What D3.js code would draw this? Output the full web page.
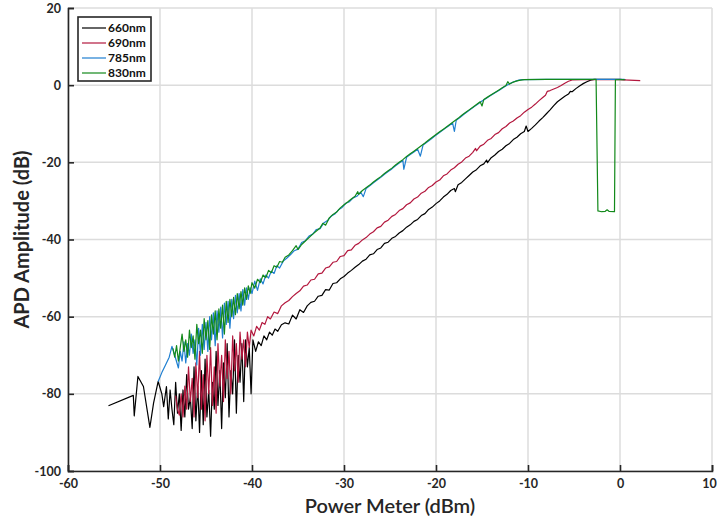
<!DOCTYPE html>
<html>
<head>
<meta charset="utf-8">
<script src="https://cdn.jsdelivr.net/npm/d3@7"></script>
<style>
  body { margin: 0; background: #fff; }
  svg { font-family: Lato, "Open Sans", sans-serif; }
</style>
</head>
<body>
<div id="chart"></div>
<script>
let svgWidth = 717;
let svgHeight = 520;
let margin = { top: 8, right: 5, bottom: 49, left: 68 };
let chartWidth = svgWidth - margin.left - margin.right;
let chartHeight = svgHeight - margin.top - margin.bottom;

// tick values
let xTicks = [-60, -50, -40, -30, -20, -10, 0, 10];
let yTicks = [20, 0, -20, -40, -60, -80, -100];

let seriesNames = ["660nm", "690nm", "785nm", "830nm"];
let seriesColors = ["#000000", "#b3173d", "#1f7fd1", "#12891a"];

// 660nm  [power dBm, amplitude dB]
let data660 = [
  [-55.6,-83.1],[-52.9,-80.4],[-52.8,-85.7],[-52.4,-75.5],[-51.8,-78.1],[-51.1,-88.7],[-50.7,-82.4],[-50.2,-76.8],
  [-49.8,-80],[-49.6,-83.3],[-49.3,-78.1],[-49.1,-86.5],[-48.9,-79],[-48.7,-84],[-48.5,-88],[-48.3,-77],[-48.1,-85],
  [-47.9,-80],[-47.7,-89.5],[-47.5,-79],[-47.3,-86],[-47.1,-75],[-46.9,-84],[-46.7,-81],[-46.5,-89],[-46.3,-73],
  [-46.1,-87],[-45.9,-78],[-45.7,-90],[-45.5,-74],[-45.3,-88],[-45.1,-71],[-44.9,-86],[-44.7,-79],[-44.5,-91],
  [-44.3,-77],[-44.1,-84],[-43.9,-69],[-43.7,-83],[-43.5,-74],[-43.3,-89],[-43.1,-72],[-42.9,-81],[-42.7,-67],
  [-42.5,-86],[-42.3,-74],[-42.1,-80],[-41.9,-66],[-41.7,-85],[-41.5,-70],[-41.3,-77],[-41.1,-67],[-40.9,-82],
  [-40.7,-66],[-40.5,-73],[-40.3,-68],[-40.1,-80],[-39.9,-66],[-39.6,-69],[-39.3,-66.5],[-39.0,-67.5],[-38.7,-65],
  [-38.4,-66],[-38.1,-64],[-37.8,-64.8],[-37.5,-63.2],[-37.2,-63.8],[-36.8,-62.1],[-36.4,-61.6],[-36.0,-61.9],
  [-35.6,-59.6],[-35.2,-60.6],[-34.8,-58.2],[-34.4,-58.9],[-34.0,-57.2],[-33.6,-56.3],[-33.2,-56.0],[-32.8,-54.7],
  [-32.4,-54.5],[-32.0,-53.0],[-31.6,-53.1],[-31.2,-51.4],[-30.8,-51.2],[-30.4,-50.2],[-30.0,-49.6],[-29.6,-48.7],
  [-29.2,-48.0],[-28.8,-47.2],[-28.4,-46.5],[-28.0,-45.6],[-27.6,-45.1],[-27.2,-44.0],[-26.8,-43.7],[-26.4,-42.6],
  [-26.0,-42.2],[-25.6,-41.0],[-25.2,-40.7],[-24.8,-39.7],[-24.4,-39.2],[-24.0,-38.3],[-23.6,-37.7],[-23.2,-36.8],
  [-22.8,-36.2],[-22.4,-35.3],[-22.0,-34.8],[-21.6,-33.8],[-21.2,-33.3],[-20.8,-32.2],[-20.4,-31.6],[-20.0,-30.7],
  [-19.6,-30.0],[-19.2,-29.0],[-18.8,-28.3],[-18.4,-27.3],[-18.0,-26.8],[-17.9,-27.6],[-17.6,-25.8],[-17.2,-25.2],
  [-16.8,-24.3],[-16.4,-23.4],[-16.0,-22.5],[-15.6,-21.9],[-15.2,-20.9],[-14.8,-20.4],[-14.5,-19.4],[-14.4,-20.1],
  [-14.0,-18.8],[-13.6,-18.1],[-13.2,-17.2],[-12.8,-16.6],[-12.4,-15.7],[-12.0,-15.1],[-11.6,-14.1],[-11.2,-13.5],
  [-10.8,-12.6],[-10.4,-12.0],[-10.2,-10.6],[-10.0,-12.0],[-9.6,-11.2],[-9.2,-10.3],[-8.8,-9.3],[-8.4,-8.4],
  [-8.0,-7.4],[-7.6,-6.4],[-7.2,-5.3],[-6.8,-4.3],[-6.4,-3.6],[-6.0,-2.9],[-5.6,-2.3],[-5.4,-1.6],[-5.2,-1.7],
  [-4.8,-0.9],[-4.4,-0.2],[-4.0,0.4],[-3.6,0.9],[-3.2,1.3],[-2.8,1.5],[-2.0,1.5],[-1.0,1.5],[0.0,1.5],[0.6,1.4]
];

// 690nm
let data690 = [
  [-48.3,-80.5],[-48.1,-84],[-47.9,-85.5],[-47.7,-80],[-47.5,-86],[-47.3,-78],[-47.1,-84],[-46.9,-73],[-46.7,-82],
  [-46.5,-76],[-46.3,-86],[-46.1,-72],[-45.9,-81],[-45.7,-69],[-45.5,-84],[-45.3,-75],[-45.1,-87],[-44.9,-70],
  [-44.7,-80],[-44.5,-68],[-44.3,-83],[-44.1,-73],[-43.9,-85],[-43.7,-67],[-43.5,-78],[-43.3,-70],[-43.1,-82],
  [-42.9,-66],[-42.7,-76],[-42.5,-69],[-42.3,-80],[-42.1,-65],[-41.9,-74],[-41.7,-67],[-41.5,-77],[-41.3,-64],
  [-41.1,-71],[-40.9,-66],[-40.7,-73],[-40.5,-64],[-40.3,-68],[-40.1,-63.5],[-39.8,-65],[-39.5,-62.5],[-39.2,-63.5],
  [-38.9,-61.5],[-38.6,-62.0],[-38.3,-60.0],[-38.0,-60.6],[-37.6,-58.8],[-37.2,-59.2],[-36.8,-57.2],[-36.4,-56.4],
  [-36.0,-55.8],[-35.6,-54.8],[-35.2,-54.0],[-34.8,-53.3],[-34.4,-52.1],[-34.0,-51.8],[-33.6,-50.5],[-33.2,-50.3],
  [-32.8,-48.9],[-32.4,-48.7],[-32.0,-47.4],[-31.6,-47.1],[-31.2,-45.9],[-30.8,-45.7],[-30.4,-44.4],[-30.0,-44.2],
  [-29.6,-42.9],[-29.2,-42.7],[-28.8,-41.5],[-28.4,-41.0],[-28.0,-40.1],[-27.6,-39.5],[-27.2,-38.6],[-26.8,-38.0],
  [-26.4,-37.0],[-26.0,-36.6],[-25.6,-35.5],[-25.2,-35.0],[-24.8,-34.0],[-24.4,-33.5],[-24.0,-32.5],[-23.6,-32.0],
  [-23.2,-31.0],[-22.8,-30.5],[-22.4,-29.5],[-22.0,-29.0],[-21.6,-28.0],[-21.2,-27.5],[-20.8,-26.5],[-20.4,-26.0],
  [-20.0,-25.1],[-19.6,-24.6],[-19.2,-23.5],[-18.8,-23.0],[-18.4,-22.0],[-18.0,-21.4],[-17.6,-20.5],[-17.2,-19.9],
  [-16.8,-18.9],[-16.4,-18.4],[-16.0,-17.4],[-15.7,-16.4],[-15.6,-17.0],[-15.2,-15.8],[-14.8,-15.3],[-14.4,-14.3],
  [-14.0,-13.8],[-13.6,-12.8],[-13.2,-12.3],[-12.8,-11.3],[-12.4,-10.7],[-12.0,-9.8],[-11.6,-9.3],[-11.2,-8.5],
  [-10.8,-7.9],[-10.4,-7.0],[-10.0,-6.3],[-9.6,-5.7],[-9.2,-4.9],[-8.8,-4.0],[-8.4,-3.2],[-8.1,-2.6],[-7.9,-1.6],
  [-7.6,-1.4],[-7.2,-1.0],[-6.8,-0.6],[-6.4,-0.1],[-6.0,0.5],[-5.6,1.0],[-5.2,1.35],[-4.0,1.45],[-2.0,1.45],
  [0.0,1.4],[1.0,1.3],[2.2,1.2]
];

// 785nm
let data785 = [
  [-50.2,-76.8],[-49.8,-74.5],[-49.4,-72.5],[-49.0,-70.5],[-48.7,-67.7],[-48.4,-70],[-48.0,-73.3],[-47.8,-69],
  [-47.6,-71.5],[-47.4,-66.5],[-47.2,-72],[-47.0,-67],[-46.8,-70],[-46.6,-64.5],[-46.4,-69.5],[-46.2,-66],
  [-46.0,-72.5],[-45.8,-63],[-45.6,-70],[-45.4,-62],[-45.2,-68.5],[-45.0,-61.5],[-44.8,-69],[-44.6,-60],[-44.4,-66],
  [-44.2,-59],[-44.0,-67.5],[-43.8,-58.5],[-43.6,-64],[-43.4,-57.5],[-43.2,-65.5],[-43.0,-56.5],[-42.8,-62],
  [-42.6,-56],[-42.4,-63],[-42.2,-55.5],[-42.0,-60.5],[-41.8,-54.5],[-41.6,-59],[-41.4,-54],[-41.2,-58.5],
  [-41.0,-53],[-40.8,-57],[-40.6,-52.5],[-40.4,-55.5],[-40.2,-52.5],[-40.0,-54],[-39.7,-50.8],[-39.4,-53.2],
  [-39.1,-50.2],[-38.8,-51.5],[-38.5,-49.2],[-38.2,-50.0],[-37.9,-48.2],[-37.6,-48.8],[-37.3,-46.8],[-37.0,-47.4],
  [-36.6,-45.6],[-36.2,-44.8],[-35.8,-43.9],[-35.4,-42.9],[-35.0,-42.5],[-34.6,-40.8],[-34.2,-40.3],[-33.8,-39.1],
  [-33.4,-38.6],[-33.0,-37.4],[-32.6,-37.2],[-32.2,-35.7],[-31.8,-35.1],[-31.4,-34.0],[-31.0,-33.4],[-30.6,-32.3],
  [-30.2,-31.7],[-29.8,-30.6],[-29.4,-30.2],[-29.0,-29.2],[-28.6,-28.8],[-28.2,-27.7],[-27.9,-28.9],[-27.6,-26.8],
  [-27.2,-26.1],[-26.8,-25.3],[-26.4,-24.6],[-26.0,-23.9],[-25.6,-23.1],[-25.2,-22.4],[-24.8,-21.7],[-24.4,-20.9],
  [-24.0,-20.2],[-23.6,-19.5],[-23.5,-21.8],[-23.2,-18.7],[-22.8,-18.0],[-22.4,-17.3],[-22.0,-16.6],[-21.7,-18.4],
  [-21.4,-15.5],[-21.0,-14.8],[-20.6,-14.1],[-20.2,-13.3],[-19.8,-12.6],[-19.4,-11.9],[-19.0,-11.2],[-18.6,-10.5],
  [-18.2,-9.8],[-18.0,-12.0],[-17.8,-9.1],[-17.4,-8.4],[-17.0,-7.6],[-16.6,-6.9],[-16.2,-6.2],[-15.8,-5.5],
  [-15.4,-4.8],[-15.0,-4.1],[-14.6,-3.5],[-14.2,-2.9],[-13.8,-2.3],[-13.4,-1.7],[-13.0,-1.1],[-12.6,-0.5],
  [-12.2,0.1],[-11.8,0.6],[-11.4,1.0],[-11.0,1.3],[-10.6,1.45],[-8.0,1.5],[-6.0,1.5],[-4.0,1.5],[-2.0,1.5],
  [0.0,1.5],[0.5,1.5]
];

// 830nm
let data830 = [
  [-48.6,-68.2],[-48.4,-70.5],[-48.2,-67.5],[-48.0,-71.5],[-47.8,-68],[-47.6,-64.5],[-47.4,-69],[-47.2,-66],
  [-47.0,-70.5],[-46.8,-63.5],[-46.6,-68],[-46.4,-65],[-46.2,-71],[-46.0,-62],[-45.8,-67],[-45.6,-63.5],
  [-45.4,-69.5],[-45.2,-60.5],[-45.0,-66],[-44.8,-61],[-44.6,-68.5],[-44.4,-59.5],[-44.2,-64.5],[-44.0,-58.5],
  [-43.8,-66],[-43.6,-58],[-43.4,-63],[-43.2,-57],[-43.0,-64.5],[-42.8,-56],[-42.6,-61.5],[-42.4,-55.5],[-42.2,-60],
  [-42.0,-55],[-41.8,-59.5],[-41.6,-54],[-41.4,-58],[-41.2,-53.5],[-41.0,-57],[-40.8,-52.5],[-40.6,-55.5],
  [-40.4,-52],[-40.2,-54],[-40.0,-51.2],[-39.7,-52.6],[-39.4,-50.3],[-39.1,-51.2],[-38.8,-49.2],[-38.5,-49.9],
  [-38.2,-48.0],[-37.9,-48.6],[-37.6,-46.8],[-37.3,-47.2],[-37.0,-45.7],[-36.7,-45.9],[-36.4,-44.6],[-36.0,-44.0],
  [-35.6,-42.9],[-35.2,-41.6],[-35.0,-42.6],[-34.6,-41.3],[-34.2,-40.4],[-33.8,-39.5],[-33.4,-38.6],[-33.0,-37.8],
  [-32.6,-37.0],[-32.3,-35.8],[-32.0,-36.3],[-31.6,-34.4],[-31.2,-33.5],[-30.8,-32.9],[-30.4,-31.8],[-30.0,-31.0],
  [-29.6,-30.3],[-29.2,-29.5],[-28.8,-28.8],[-28.5,-27.6],[-28.4,-28.3],[-28.0,-27.3],[-27.6,-26.6],[-27.2,-25.9],
  [-26.8,-25.1],[-26.4,-24.4],[-26.0,-23.7],[-25.6,-22.9],[-25.2,-22.2],[-24.8,-21.5],[-24.4,-20.7],[-24.0,-20.0],
  [-23.6,-19.3],[-23.2,-18.5],[-22.8,-17.8],[-22.4,-17.1],[-22.0,-16.4],[-21.6,-15.7],[-21.2,-15.0],[-20.8,-14.2],
  [-20.4,-13.5],[-20.0,-12.8],[-19.6,-12.1],[-19.2,-11.4],[-18.8,-10.7],[-18.4,-10.0],[-18.0,-9.3],[-17.6,-8.6],
  [-17.2,-7.8],[-16.8,-7.1],[-16.4,-6.4],[-16.0,-5.7],[-15.6,-5.0],[-15.2,-4.3],[-15.0,-5.4],[-14.8,-3.7],
  [-14.4,-3.1],[-14.0,-2.5],[-13.6,-1.9],[-13.2,-1.3],[-12.8,-0.7],[-12.4,-0.1],[-12.2,0.9],[-12.0,0.3],
  [-11.6,0.8],[-11.2,1.1],[-10.8,1.3],[-10.4,1.45],[-8.0,1.5],[-6.0,1.5],[-4.0,1.5],[-2.6,1.5],[-2.4,-32.6],
  [-2.0,-32.8],[-1.6,-32.7],[-1.4,-32.3],[-1.2,-32.7],[-0.6,-32.8],[-0.5,1.4],[0.5,1.45]
];

let allSeries = [data660, data690, data785, data830];

let svg = d3.select("#chart")
  .append("svg")
  .attr("width", svgWidth)
  .attr("height", svgHeight);

let chartGroup = svg.append("g")
  .attr("transform", `translate(${margin.left}, ${margin.top})`);

let xScale = d3.scaleLinear().domain([-60, 10]).range([0, chartWidth]);
let yScale = d3.scaleLinear().domain([-100, 20]).range([chartHeight, 0]);

// grid
chartGroup.append("g")
  .selectAll("line")
  .data(xTicks)
  .enter()
  .append("line")
  .attr("x1", d => xScale(d)).attr("x2", d => xScale(d))
  .attr("y1", 0).attr("y2", chartHeight)
  .attr("stroke", "#dcdcdc").attr("stroke-width", 1.5);
chartGroup.append("g")
  .selectAll("line")
  .data(yTicks)
  .enter()
  .append("line")
  .attr("x1", 0).attr("x2", chartWidth)
  .attr("y1", d => yScale(d)).attr("y2", d => yScale(d))
  .attr("stroke", "#dcdcdc").attr("stroke-width", 1.5);

// lines
let line = d3.line()
  .x(d => xScale(d[0]))
  .y(d => yScale(d[1]));

chartGroup.selectAll(".series")
  .data(allSeries)
  .enter()
  .append("path")
  .attr("class", "series")
  .attr("d", d => line(d))
  .attr("fill", "none")
  .attr("stroke", (d, i) => seriesColors[i])
  .attr("stroke-width", 1.2)
  .attr("stroke-linejoin", "round");

// axes (plain hyphen for negatives, like the original)
let bottomAxis = d3.axisBottom(xScale).tickValues(xTicks).tickSize(-6).tickPadding(8)
  .tickFormat(d => String(d));
let leftAxis = d3.axisLeft(yScale).tickValues(yTicks).tickSize(-6).tickPadding(7)
  .tickFormat(d => String(d));

let xAxisG = chartGroup.append("g")
  .attr("transform", `translate(0, ${chartHeight})`)
  .call(bottomAxis);
let yAxisG = chartGroup.append("g")
  .call(leftAxis);

[xAxisG, yAxisG].forEach(g => {
  g.select(".domain").attr("stroke", "#262626").attr("stroke-width", 1.6);
  g.selectAll(".tick line").attr("stroke", "#262626").attr("stroke-width", 1.6);
  g.selectAll(".tick text")
    .attr("fill", "#262626")
    .style("font-size", "12.5px")
    .style("font-weight", "bold")
    .style("font-family", "Lato, sans-serif");
});
// keep the last x label inside the page
xAxisG.selectAll(".tick text").filter(d => d === 10).attr("dx", "-3");

// axis titles
svg.append("text")
  .attr("x", margin.left + chartWidth / 2)
  .attr("y", 513)
  .attr("text-anchor", "middle")
  .attr("fill", "#262626")
  .style("font-size", "20px")
  .style("font-weight", "600")
  .text("Power Meter (dBm)");

svg.append("text")
  .attr("transform", `translate(29, ${margin.top + chartHeight / 2}) rotate(-90)`)
  .attr("text-anchor", "middle")
  .attr("fill", "#262626")
  .style("font-size", "20px")
  .style("font-weight", "bold")
  .text("APD Amplitude (dB)");

// legend
let legend = svg.append("g").attr("transform", "translate(78, 17)");
legend.append("rect")
  .attr("width", 73).attr("height", 64)
  .attr("fill", "#fff")
  .attr("stroke", "#262626").attr("stroke-width", 1.6);
let rows = legend.selectAll(".leg")
  .data(seriesNames)
  .enter()
  .append("g")
  .attr("class", "leg")
  .attr("transform", (d, i) => `translate(0, ${11 + i * 15})`);
rows.append("line")
  .attr("x1", 4).attr("x2", 28)
  .attr("stroke", (d, i) => seriesColors[i])
  .attr("stroke-width", 1.2);
rows.append("text")
  .attr("x", 30).attr("y", 4)
  .attr("fill", "#111")
  .style("font-size", "12px")
  .style("font-weight", "bold")
  .text(d => d);
</script>
</body>
</html>
